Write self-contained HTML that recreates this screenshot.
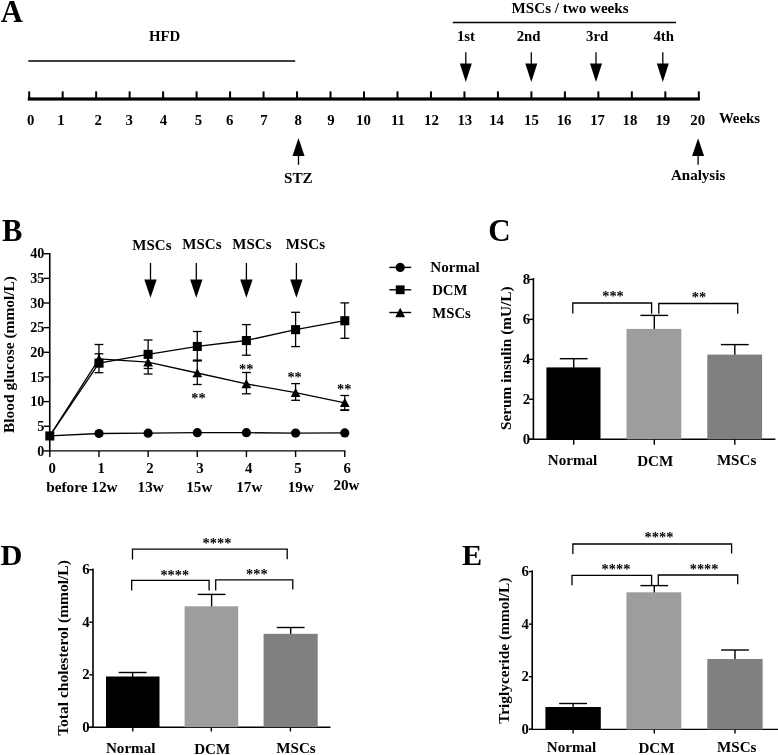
<!DOCTYPE html>
<html><head><meta charset="utf-8"><title>Figure</title>
<style>
html,body{margin:0;padding:0;background:#fff;}
svg{display:block;filter:grayscale(1) blur(0.4px);}
svg text{font-family:"Liberation Serif",serif;font-weight:bold;fill:#000;}
</style></head><body>
<svg width="778" height="755" viewBox="0 0 778 755">
<rect x="0" y="0" width="778" height="755" fill="#fff"/>
<text x="0.8" y="21.5" text-anchor="start" font-size="30.6" >A</text>
<text x="164.5" y="41.3" text-anchor="middle" font-size="14.8" >HFD</text>
<line x1="28.3" y1="61" x2="295.2" y2="61" stroke="#000" stroke-width="1.3" />
<rect x="27.8" y="97.4" width="672.1" height="3.2" fill="#000"/>
<rect x="28.20" y="91.4" width="2" height="7" fill="#000"/>
<rect x="61.68" y="91.4" width="2" height="7" fill="#000"/>
<rect x="95.16" y="91.4" width="2" height="7" fill="#000"/>
<rect x="128.64" y="91.4" width="2" height="7" fill="#000"/>
<rect x="162.12" y="91.4" width="2" height="7" fill="#000"/>
<rect x="195.60" y="91.4" width="2" height="7" fill="#000"/>
<rect x="229.08" y="91.4" width="2" height="7" fill="#000"/>
<rect x="262.56" y="91.4" width="2" height="7" fill="#000"/>
<rect x="296.04" y="91.4" width="2" height="7" fill="#000"/>
<rect x="329.52" y="91.4" width="2" height="7" fill="#000"/>
<rect x="363.00" y="91.4" width="2" height="7" fill="#000"/>
<rect x="396.48" y="91.4" width="2" height="7" fill="#000"/>
<rect x="429.96" y="91.4" width="2" height="7" fill="#000"/>
<rect x="463.44" y="91.4" width="2" height="7" fill="#000"/>
<rect x="496.92" y="91.4" width="2" height="7" fill="#000"/>
<rect x="530.40" y="91.4" width="2" height="7" fill="#000"/>
<rect x="563.88" y="91.4" width="2" height="7" fill="#000"/>
<rect x="597.36" y="91.4" width="2" height="7" fill="#000"/>
<rect x="630.84" y="91.4" width="2" height="7" fill="#000"/>
<rect x="664.32" y="91.4" width="2" height="7" fill="#000"/>
<rect x="697.80" y="91.4" width="2" height="7" fill="#000"/>
<text x="30.6" y="124.5" text-anchor="middle" font-size="14.8" >0</text>
<text x="61" y="124.5" text-anchor="middle" font-size="14.8" >1</text>
<text x="98.3" y="124.5" text-anchor="middle" font-size="14.8" >2</text>
<text x="129.3" y="124.5" text-anchor="middle" font-size="14.8" >3</text>
<text x="163.4" y="124.5" text-anchor="middle" font-size="14.8" >4</text>
<text x="198.5" y="124.5" text-anchor="middle" font-size="14.8" >5</text>
<text x="229.7" y="124.5" text-anchor="middle" font-size="14.8" >6</text>
<text x="263.9" y="124.5" text-anchor="middle" font-size="14.8" >7</text>
<text x="298.1" y="124.5" text-anchor="middle" font-size="14.8" >8</text>
<text x="330.9" y="124.5" text-anchor="middle" font-size="14.8" >9</text>
<text x="363.5" y="124.5" text-anchor="middle" font-size="14.8" >10</text>
<text x="398" y="124.5" text-anchor="middle" font-size="14.8" >11</text>
<text x="431.4" y="124.5" text-anchor="middle" font-size="14.8" >12</text>
<text x="464.8" y="124.5" text-anchor="middle" font-size="14.8" >13</text>
<text x="496.6" y="124.5" text-anchor="middle" font-size="14.8" >14</text>
<text x="531.5" y="124.5" text-anchor="middle" font-size="14.8" >15</text>
<text x="564.1" y="124.5" text-anchor="middle" font-size="14.8" >16</text>
<text x="597.6" y="124.5" text-anchor="middle" font-size="14.8" >17</text>
<text x="629.9" y="124.5" text-anchor="middle" font-size="14.8" >18</text>
<text x="662.8" y="124.5" text-anchor="middle" font-size="14.8" >19</text>
<text x="697.7" y="124.5" text-anchor="middle" font-size="14.8" >20</text>
<text x="718.9" y="123.2" text-anchor="start" font-size="14.8" >Weeks</text>
<line x1="298.5" y1="154.9" x2="298.5" y2="164.8" stroke="#000" stroke-width="1.3" />
<polygon points="292.5,155.9 304.5,155.9 298.5,138.10000000000002" fill="#000"/>
<text x="298.4" y="183.3" text-anchor="middle" font-size="15.15" >STZ</text>
<line x1="698.1" y1="155" x2="698.1" y2="164.8" stroke="#000" stroke-width="1.3" />
<polygon points="692.1,156 704.1,156 698.1,138.20000000000002" fill="#000"/>
<text x="698.1" y="179.7" text-anchor="middle" font-size="15.05" >Analysis</text>
<text x="570.1" y="13.3" text-anchor="middle" font-size="15.1" >MSCs / two weeks</text>
<line x1="452.8" y1="22.5" x2="676" y2="22.5" stroke="#000" stroke-width="1.3" />
<text x="466" y="41" text-anchor="middle" font-size="14.8" >1st</text>
<text x="528.6" y="41" text-anchor="middle" font-size="14.8" >2nd</text>
<text x="597.2" y="41" text-anchor="middle" font-size="14.8" >3rd</text>
<text x="663.7" y="41" text-anchor="middle" font-size="14.8" >4th</text>
<line x1="465.8" y1="52.2" x2="465.8" y2="64.6" stroke="#000" stroke-width="1.3" />
<polygon points="459.8,63.6 471.8,63.6 465.8,82.0" fill="#000"/>
<line x1="531.3" y1="52.2" x2="531.3" y2="64.6" stroke="#000" stroke-width="1.3" />
<polygon points="525.3,63.6 537.3,63.6 531.3,82.0" fill="#000"/>
<line x1="596" y1="52.2" x2="596" y2="64.6" stroke="#000" stroke-width="1.3" />
<polygon points="590.0,63.6 602.0,63.6 596,82.0" fill="#000"/>
<line x1="662.8" y1="52.2" x2="662.8" y2="64.6" stroke="#000" stroke-width="1.3" />
<polygon points="656.8,63.6 668.8,63.6 662.8,82.0" fill="#000"/>
<text x="1.9" y="240.6" text-anchor="start" font-size="30.6" >B</text>
<line x1="49.75" y1="253.0" x2="49.75" y2="451.5" stroke="#000" stroke-width="1.6" />
<line x1="49" y1="450.9" x2="345.5" y2="450.9" stroke="#000" stroke-width="1.4" />
<line x1="43.7" y1="450.9" x2="49.6" y2="450.9" stroke="#000" stroke-width="1.4" />
<text x="44.4" y="455.59999999999997" text-anchor="end" font-size="14.2" >0</text>
<line x1="43.7" y1="426.25" x2="49.6" y2="426.25" stroke="#000" stroke-width="1.4" />
<text x="44.4" y="430.95" text-anchor="end" font-size="14.2" >5</text>
<line x1="43.7" y1="401.59999999999997" x2="49.6" y2="401.59999999999997" stroke="#000" stroke-width="1.4" />
<text x="44.4" y="406.29999999999995" text-anchor="end" font-size="14.2" >10</text>
<line x1="43.7" y1="376.95" x2="49.6" y2="376.95" stroke="#000" stroke-width="1.4" />
<text x="44.4" y="381.65" text-anchor="end" font-size="14.2" >15</text>
<line x1="43.7" y1="352.29999999999995" x2="49.6" y2="352.29999999999995" stroke="#000" stroke-width="1.4" />
<text x="44.4" y="356.99999999999994" text-anchor="end" font-size="14.2" >20</text>
<line x1="43.7" y1="327.65" x2="49.6" y2="327.65" stroke="#000" stroke-width="1.4" />
<text x="44.4" y="332.34999999999997" text-anchor="end" font-size="14.2" >25</text>
<line x1="43.7" y1="303.0" x2="49.6" y2="303.0" stroke="#000" stroke-width="1.4" />
<text x="44.4" y="307.7" text-anchor="end" font-size="14.2" >30</text>
<line x1="43.7" y1="278.35" x2="49.6" y2="278.35" stroke="#000" stroke-width="1.4" />
<text x="44.4" y="283.05" text-anchor="end" font-size="14.2" >35</text>
<line x1="43.7" y1="253.7" x2="49.6" y2="253.7" stroke="#000" stroke-width="1.4" />
<text x="44.4" y="258.4" text-anchor="end" font-size="14.2" >40</text>
<line x1="49.8" y1="450.9" x2="49.8" y2="457" stroke="#000" stroke-width="1.4" />
<line x1="98.96" y1="450.9" x2="98.96" y2="457" stroke="#000" stroke-width="1.4" />
<line x1="148.12" y1="450.9" x2="148.12" y2="457" stroke="#000" stroke-width="1.4" />
<line x1="197.27999999999997" y1="450.9" x2="197.27999999999997" y2="457" stroke="#000" stroke-width="1.4" />
<line x1="246.44" y1="450.9" x2="246.44" y2="457" stroke="#000" stroke-width="1.4" />
<line x1="295.59999999999997" y1="450.9" x2="295.59999999999997" y2="457" stroke="#000" stroke-width="1.4" />
<line x1="344.76" y1="450.9" x2="344.76" y2="457" stroke="#000" stroke-width="1.4" />
<text x="52.3" y="473.3" text-anchor="middle" font-size="14.8" >0</text>
<text x="101.3" y="473.3" text-anchor="middle" font-size="14.8" >1</text>
<text x="149.9" y="473.3" text-anchor="middle" font-size="14.8" >2</text>
<text x="199.9" y="473.3" text-anchor="middle" font-size="14.8" >3</text>
<text x="248.6" y="473.3" text-anchor="middle" font-size="14.8" >4</text>
<text x="297.9" y="473.3" text-anchor="middle" font-size="14.8" >5</text>
<text x="347.1" y="473.3" text-anchor="middle" font-size="14.8" >6</text>
<text x="81.9" y="491.6" text-anchor="middle" font-size="15.3" >before 12w</text>
<text x="150.6" y="491.6" text-anchor="middle" font-size="15.1" >13w</text>
<text x="199.3" y="491.6" text-anchor="middle" font-size="15.1" >15w</text>
<text x="249.3" y="491.6" text-anchor="middle" font-size="15.1" >17w</text>
<text x="300.8" y="491.6" text-anchor="middle" font-size="15.1" >19w</text>
<text x="346.5" y="490.2" text-anchor="middle" font-size="15.1" >20w</text>
<text transform="translate(13.8,354.5) rotate(-90)" text-anchor="middle" font-size="15.45">Blood glucose (mmol/L)</text>
<text x="151.9" y="250.0" text-anchor="middle" font-size="15" >MSCs</text>
<text x="201.9" y="249.3" text-anchor="middle" font-size="15" >MSCs</text>
<text x="251.9" y="249.0" text-anchor="middle" font-size="15" >MSCs</text>
<text x="305.4" y="249.3" text-anchor="middle" font-size="15" >MSCs</text>
<line x1="150.5" y1="263" x2="150.5" y2="280.4" stroke="#000" stroke-width="1.3" />
<polygon points="144.3,279.4 156.7,279.4 150.5,297.8" fill="#000"/>
<line x1="196.3" y1="263" x2="196.3" y2="280.4" stroke="#000" stroke-width="1.3" />
<polygon points="190.10000000000002,279.4 202.5,279.4 196.3,297.8" fill="#000"/>
<line x1="246.4" y1="263" x2="246.4" y2="280.4" stroke="#000" stroke-width="1.3" />
<polygon points="240.20000000000002,279.4 252.6,279.4 246.4,297.8" fill="#000"/>
<line x1="296.4" y1="263" x2="296.4" y2="280.4" stroke="#000" stroke-width="1.3" />
<polygon points="290.2,279.4 302.59999999999997,279.4 296.4,297.8" fill="#000"/>
<line x1="98.96" y1="353.8" x2="98.96" y2="372.7" stroke="#000" stroke-width="1.3" />
<line x1="94.55999999999999" y1="353.8" x2="103.36" y2="353.8" stroke="#000" stroke-width="1.3" />
<line x1="94.55999999999999" y1="372.7" x2="103.36" y2="372.7" stroke="#000" stroke-width="1.3" />
<line x1="148.12" y1="340.0" x2="148.12" y2="368.5" stroke="#000" stroke-width="1.3" />
<line x1="143.72" y1="340.0" x2="152.52" y2="340.0" stroke="#000" stroke-width="1.3" />
<line x1="143.72" y1="368.5" x2="152.52" y2="368.5" stroke="#000" stroke-width="1.3" />
<line x1="197.27999999999997" y1="331.5" x2="197.27999999999997" y2="360.4" stroke="#000" stroke-width="1.3" />
<line x1="192.87999999999997" y1="331.5" x2="201.67999999999998" y2="331.5" stroke="#000" stroke-width="1.3" />
<line x1="192.87999999999997" y1="360.4" x2="201.67999999999998" y2="360.4" stroke="#000" stroke-width="1.3" />
<line x1="246.44" y1="324.6" x2="246.44" y2="355.2" stroke="#000" stroke-width="1.3" />
<line x1="242.04" y1="324.6" x2="250.84" y2="324.6" stroke="#000" stroke-width="1.3" />
<line x1="242.04" y1="355.2" x2="250.84" y2="355.2" stroke="#000" stroke-width="1.3" />
<line x1="295.59999999999997" y1="312.3" x2="295.59999999999997" y2="346.6" stroke="#000" stroke-width="1.3" />
<line x1="291.2" y1="312.3" x2="299.99999999999994" y2="312.3" stroke="#000" stroke-width="1.3" />
<line x1="291.2" y1="346.6" x2="299.99999999999994" y2="346.6" stroke="#000" stroke-width="1.3" />
<line x1="344.76" y1="302.9" x2="344.76" y2="338.3" stroke="#000" stroke-width="1.3" />
<line x1="340.36" y1="302.9" x2="349.15999999999997" y2="302.9" stroke="#000" stroke-width="1.3" />
<line x1="340.36" y1="338.3" x2="349.15999999999997" y2="338.3" stroke="#000" stroke-width="1.3" />
<line x1="98.96" y1="344.5" x2="98.96" y2="366" stroke="#000" stroke-width="1.3" />
<line x1="94.55999999999999" y1="344.5" x2="103.36" y2="344.5" stroke="#000" stroke-width="1.3" />
<line x1="94.55999999999999" y1="366" x2="103.36" y2="366" stroke="#000" stroke-width="1.3" />
<line x1="148.12" y1="353" x2="148.12" y2="374.0" stroke="#000" stroke-width="1.3" />
<line x1="143.72" y1="353" x2="152.52" y2="353" stroke="#000" stroke-width="1.3" />
<line x1="143.72" y1="374.0" x2="152.52" y2="374.0" stroke="#000" stroke-width="1.3" />
<line x1="197.27999999999997" y1="360.4" x2="197.27999999999997" y2="384.5" stroke="#000" stroke-width="1.3" />
<line x1="192.87999999999997" y1="360.4" x2="201.67999999999998" y2="360.4" stroke="#000" stroke-width="1.3" />
<line x1="192.87999999999997" y1="384.5" x2="201.67999999999998" y2="384.5" stroke="#000" stroke-width="1.3" />
<line x1="246.44" y1="372.5" x2="246.44" y2="393.8" stroke="#000" stroke-width="1.3" />
<line x1="242.04" y1="372.5" x2="250.84" y2="372.5" stroke="#000" stroke-width="1.3" />
<line x1="242.04" y1="393.8" x2="250.84" y2="393.8" stroke="#000" stroke-width="1.3" />
<line x1="295.59999999999997" y1="383.6" x2="295.59999999999997" y2="400.3" stroke="#000" stroke-width="1.3" />
<line x1="291.2" y1="383.6" x2="299.99999999999994" y2="383.6" stroke="#000" stroke-width="1.3" />
<line x1="291.2" y1="400.3" x2="299.99999999999994" y2="400.3" stroke="#000" stroke-width="1.3" />
<line x1="344.76" y1="395.5" x2="344.76" y2="410.4" stroke="#000" stroke-width="1.3" />
<line x1="340.36" y1="395.5" x2="349.15999999999997" y2="395.5" stroke="#000" stroke-width="1.3" />
<line x1="340.36" y1="410.4" x2="349.15999999999997" y2="410.4" stroke="#000" stroke-width="1.3" />
<line x1="340.36" y1="410.0" x2="349.15999999999997" y2="410.0" stroke="#000" stroke-width="1.6" />
<line x1="192.87999999999997" y1="360.7" x2="201.67999999999998" y2="360.7" stroke="#000" stroke-width="1.8" />
<polyline points="49.8,435.9 99.0,433.5 148.1,433.2 197.3,432.7 246.4,432.7 295.6,433.1 344.8,432.9" fill="none" stroke="#000" stroke-width="1.3"/>
<polyline points="49.8,435.9 99.0,363.1 148.1,354.3 197.3,346.4 246.4,340.5 295.6,329.6 344.8,320.7" fill="none" stroke="#000" stroke-width="1.3"/>
<polyline points="49.8,435.9 99.0,358.9 148.1,362.2 197.3,373.0 246.4,383.9 295.6,392.7 344.8,402.8" fill="none" stroke="#000" stroke-width="1.3"/>
<circle cx="99.0" cy="433.5" r="4.6" fill="#000"/>
<circle cx="148.1" cy="433.2" r="4.6" fill="#000"/>
<circle cx="197.3" cy="432.7" r="4.6" fill="#000"/>
<circle cx="246.4" cy="432.7" r="4.6" fill="#000"/>
<circle cx="295.6" cy="433.1" r="4.6" fill="#000"/>
<circle cx="344.8" cy="432.9" r="4.6" fill="#000"/>
<polygon points="94.1,363.2 103.9,363.2 99.0,354.1" fill="#000"/>
<polygon points="143.2,366.5 153.0,366.5 148.1,357.4" fill="#000"/>
<polygon points="192.4,377.3 202.2,377.3 197.3,368.2" fill="#000"/>
<polygon points="241.5,388.2 251.3,388.2 246.4,379.1" fill="#000"/>
<polygon points="290.7,397.0 300.5,397.0 295.6,387.9" fill="#000"/>
<polygon points="339.9,407.1 349.7,407.1 344.8,398.0" fill="#000"/>
<rect x="45.3" y="431.4" width="9" height="9.1" fill="#000"/>
<rect x="94.5" y="358.6" width="9" height="9.1" fill="#000"/>
<rect x="143.6" y="349.8" width="9" height="9.1" fill="#000"/>
<rect x="192.8" y="341.9" width="9" height="9.1" fill="#000"/>
<rect x="241.9" y="336.0" width="9" height="9.1" fill="#000"/>
<rect x="291.1" y="325.1" width="9" height="9.1" fill="#000"/>
<rect x="340.3" y="316.2" width="9" height="9.1" fill="#000"/>
<text x="198.4" y="403.0" text-anchor="middle" font-size="14.4" font-weight="normal" fill="#505050">**</text>
<text x="246.2" y="374.4" text-anchor="middle" font-size="14.4" font-weight="normal" fill="#505050">**</text>
<text x="294.6" y="381.9" text-anchor="middle" font-size="14.4" font-weight="normal" fill="#505050">**</text>
<text x="344.3" y="393.8" text-anchor="middle" font-size="14.4" font-weight="normal" fill="#505050">**</text>
<line x1="389.3" y1="267.4" x2="411.2" y2="267.4" stroke="#000" stroke-width="1.4" />
<circle cx="400.2" cy="267.4" r="4.6" fill="#000"/>
<line x1="389.3" y1="289.8" x2="411.2" y2="289.8" stroke="#000" stroke-width="1.4" />
<rect x="395.8" y="285.40000000000003" width="8.8" height="8.8" fill="#000"/>
<line x1="389.3" y1="312.5" x2="411.2" y2="312.5" stroke="#000" stroke-width="1.4" />
<polygon points="395.3,317.3 405.09999999999997,317.3 400.2,307.7" fill="#000"/>
<text x="430.3" y="272.4" text-anchor="start" font-size="15.1" >Normal</text>
<text x="432.2" y="295.3" text-anchor="start" font-size="14.8" >DCM</text>
<text x="432.2" y="317.8" text-anchor="start" font-size="14.8" >MSCs</text>
<text x="488.2" y="241.0" text-anchor="start" font-size="31" >C</text>
<line x1="533.4" y1="278.0" x2="533.4" y2="439.3" stroke="#000" stroke-width="1.6" />
<line x1="528.6" y1="439.3" x2="775.4" y2="439.3" stroke="#000" stroke-width="1.4" />
<line x1="528.9" y1="279.4" x2="533.1" y2="279.4" stroke="#000" stroke-width="1.4" />
<text x="530.1" y="283.9" text-anchor="end" font-size="14.8" >8</text>
<line x1="528.9" y1="319.34999999999997" x2="533.1" y2="319.34999999999997" stroke="#000" stroke-width="1.4" />
<text x="530.1" y="323.84999999999997" text-anchor="end" font-size="14.8" >6</text>
<line x1="528.9" y1="359.29999999999995" x2="533.1" y2="359.29999999999995" stroke="#000" stroke-width="1.4" />
<text x="530.1" y="363.79999999999995" text-anchor="end" font-size="14.8" >4</text>
<line x1="528.9" y1="399.25" x2="533.1" y2="399.25" stroke="#000" stroke-width="1.4" />
<text x="530.1" y="403.75" text-anchor="end" font-size="14.8" >2</text>
<line x1="528.9" y1="439.2" x2="533.1" y2="439.2" stroke="#000" stroke-width="1.4" />
<text x="530.1" y="443.7" text-anchor="end" font-size="14.8" >0</text>
<text transform="translate(511.1,358.2) rotate(-90)" text-anchor="middle" font-size="15.3">Serum insulin (mU/L)</text>
<line x1="573.7" y1="358.7" x2="573.7" y2="368.4" stroke="#000" stroke-width="1.4" />
<line x1="559.8000000000001" y1="358.7" x2="587.6" y2="358.7" stroke="#000" stroke-width="1.4" />
<rect x="546.4" y="367.4" width="54.1" height="71.9" fill="#000"/>
<line x1="654.3" y1="315.4" x2="654.3" y2="329.9" stroke="#000" stroke-width="1.4" />
<line x1="640.4" y1="315.4" x2="668.1999999999999" y2="315.4" stroke="#000" stroke-width="1.4" />
<rect x="626.5" y="328.9" width="54.8" height="110.4" fill="#9d9d9d"/>
<line x1="734.8" y1="344.6" x2="734.8" y2="355.6" stroke="#000" stroke-width="1.4" />
<line x1="720.9" y1="344.6" x2="748.6999999999999" y2="344.6" stroke="#000" stroke-width="1.4" />
<rect x="707.3" y="354.6" width="54.8" height="84.7" fill="#808080"/>
<line x1="573.7" y1="439.3" x2="573.7" y2="444.8" stroke="#000" stroke-width="1.4" />
<line x1="654.3" y1="439.3" x2="654.3" y2="444.8" stroke="#000" stroke-width="1.4" />
<line x1="734.8" y1="439.3" x2="734.8" y2="444.8" stroke="#000" stroke-width="1.4" />
<polyline points="572.8,313.5 572.8,303.0 651.6,303.0 651.6,313.8" fill="none" stroke="#000" stroke-width="1.3"/>
<polyline points="658.8,313.8 658.8,303.5 737.7,303.5 737.7,313.8" fill="none" stroke="#000" stroke-width="1.3"/>
<text x="613" y="301.4" text-anchor="middle" font-size="14.4" font-weight="normal" fill="#505050">***</text>
<text x="699" y="302.2" text-anchor="middle" font-size="14.4" font-weight="normal" fill="#505050">**</text>
<text x="572.5" y="465" text-anchor="middle" font-size="15.1" >Normal</text>
<text x="655.2" y="466.3" text-anchor="middle" font-size="15.1" >DCM</text>
<text x="736.6" y="465" text-anchor="middle" font-size="15.1" >MSCs</text>
<text x="0.6" y="565.3" text-anchor="start" font-size="30.3" >D</text>
<line x1="93.0" y1="568.4" x2="93.0" y2="727.8" stroke="#000" stroke-width="1.6" />
<line x1="89.3" y1="727.2" x2="330.5" y2="727.2" stroke="#000" stroke-width="1.4" />
<line x1="89.3" y1="569.7" x2="92.7" y2="569.7" stroke="#000" stroke-width="1.4" />
<text x="89.6" y="574.2" text-anchor="end" font-size="14.8" >6</text>
<line x1="89.3" y1="622.25" x2="92.7" y2="622.25" stroke="#000" stroke-width="1.4" />
<text x="89.6" y="626.75" text-anchor="end" font-size="14.8" >4</text>
<line x1="89.3" y1="674.8000000000001" x2="92.7" y2="674.8000000000001" stroke="#000" stroke-width="1.4" />
<text x="89.6" y="679.3000000000001" text-anchor="end" font-size="14.8" >2</text>
<line x1="89.3" y1="727.35" x2="92.7" y2="727.35" stroke="#000" stroke-width="1.4" />
<text x="89.6" y="731.85" text-anchor="end" font-size="14.8" >0</text>
<text transform="translate(68.3,648) rotate(-90)" text-anchor="middle" font-size="15.5">Total cholesterol (mmol/L)</text>
<line x1="132.6" y1="672.5" x2="132.6" y2="677.5" stroke="#000" stroke-width="1.4" />
<line x1="118.69999999999999" y1="672.5" x2="146.5" y2="672.5" stroke="#000" stroke-width="1.4" />
<rect x="106" y="676.5" width="53.5" height="50.7" fill="#000"/>
<line x1="211.6" y1="594.4" x2="211.6" y2="607.3" stroke="#000" stroke-width="1.4" />
<line x1="197.7" y1="594.4" x2="225.5" y2="594.4" stroke="#000" stroke-width="1.4" />
<rect x="184.6" y="606.3" width="53.6" height="120.9" fill="#9d9d9d"/>
<line x1="290.7" y1="627.5" x2="290.7" y2="634.8" stroke="#000" stroke-width="1.4" />
<line x1="276.8" y1="627.5" x2="304.59999999999997" y2="627.5" stroke="#000" stroke-width="1.4" />
<rect x="263.6" y="633.8" width="54.1" height="93.4" fill="#808080"/>
<line x1="132.8" y1="727.2" x2="132.8" y2="731.5" stroke="#000" stroke-width="1.4" />
<line x1="211.3" y1="727.2" x2="211.3" y2="731.5" stroke="#000" stroke-width="1.4" />
<line x1="290.4" y1="727.2" x2="290.4" y2="731.5" stroke="#000" stroke-width="1.4" />
<polyline points="132.5,559.5 132.5,549.1 287.2,549.1 287.2,559.3" fill="none" stroke="#000" stroke-width="1.3"/>
<polyline points="131.7,590.4 131.7,580.3 209.1,580.3 209.1,590.4" fill="none" stroke="#000" stroke-width="1.3"/>
<polyline points="215.7,590.4 215.7,579.8 292.8,579.8 292.8,589.6" fill="none" stroke="#000" stroke-width="1.3"/>
<text x="217" y="547.9" text-anchor="middle" font-size="14.4" font-weight="normal" fill="#505050">****</text>
<text x="174.8" y="579.8" text-anchor="middle" font-size="14.4" font-weight="normal" fill="#505050">****</text>
<text x="256.9" y="579.0" text-anchor="middle" font-size="14.4" font-weight="normal" fill="#505050">***</text>
<text x="130.7" y="752.5" text-anchor="middle" font-size="15.1" >Normal</text>
<text x="212.2" y="754" text-anchor="middle" font-size="15.1" >DCM</text>
<text x="296" y="752.5" text-anchor="middle" font-size="15.1" >MSCs</text>
<text x="461.9" y="565.3" text-anchor="start" font-size="30.2" >E</text>
<line x1="532.2" y1="570.3" x2="532.2" y2="730.0" stroke="#000" stroke-width="1.6" />
<line x1="529.3" y1="729.4" x2="778" y2="729.4" stroke="#000" stroke-width="1.4" />
<line x1="528.9" y1="571.6" x2="532.2" y2="571.6" stroke="#000" stroke-width="1.4" />
<text x="528.9" y="576.0" text-anchor="end" font-size="14.8" >6</text>
<line x1="528.9" y1="624.15" x2="532.2" y2="624.15" stroke="#000" stroke-width="1.4" />
<text x="528.9" y="628.55" text-anchor="end" font-size="14.8" >4</text>
<line x1="528.9" y1="676.7" x2="532.2" y2="676.7" stroke="#000" stroke-width="1.4" />
<text x="528.9" y="681.1" text-anchor="end" font-size="14.8" >2</text>
<line x1="528.9" y1="729.25" x2="532.2" y2="729.25" stroke="#000" stroke-width="1.4" />
<text x="528.9" y="733.65" text-anchor="end" font-size="14.8" >0</text>
<text transform="translate(508.9,650.7) rotate(-90)" text-anchor="middle" font-size="15.4">Triglyceride (mmol/L)</text>
<line x1="573.1" y1="703.5" x2="573.1" y2="708" stroke="#000" stroke-width="1.4" />
<line x1="559.2" y1="703.5" x2="587.0" y2="703.5" stroke="#000" stroke-width="1.4" />
<rect x="545.4" y="707" width="55.4" height="22.4" fill="#000"/>
<line x1="654.3" y1="585.6" x2="654.3" y2="593.3" stroke="#000" stroke-width="1.4" />
<line x1="640.4" y1="585.6" x2="668.1999999999999" y2="585.6" stroke="#000" stroke-width="1.4" />
<rect x="626.4" y="592.3" width="54.9" height="137.1" fill="#9d9d9d"/>
<line x1="735" y1="650" x2="735" y2="660" stroke="#000" stroke-width="1.4" />
<line x1="721.1" y1="650" x2="748.9" y2="650" stroke="#000" stroke-width="1.4" />
<rect x="707.3" y="659" width="55.3" height="70.4" fill="#808080"/>
<line x1="573.1" y1="729.4" x2="573.1" y2="733.5" stroke="#000" stroke-width="1.4" />
<line x1="654.3" y1="729.4" x2="654.3" y2="733.5" stroke="#000" stroke-width="1.4" />
<line x1="735" y1="729.4" x2="735" y2="733.5" stroke="#000" stroke-width="1.4" />
<polyline points="572.9,554.0 572.9,544 731.6,544 731.6,553.5" fill="none" stroke="#000" stroke-width="1.3"/>
<polyline points="572.0,585.3 572.0,575.3 651.6,575.3 651.6,585.3" fill="none" stroke="#000" stroke-width="1.3"/>
<polyline points="658.3,585.1 658.3,575 737.7,575 737.7,584.3" fill="none" stroke="#000" stroke-width="1.3"/>
<text x="659" y="542.2" text-anchor="middle" font-size="14.4" font-weight="normal" fill="#505050">****</text>
<text x="616" y="573.6" text-anchor="middle" font-size="14.4" font-weight="normal" fill="#505050">****</text>
<text x="704.1" y="573.6" text-anchor="middle" font-size="14.4" font-weight="normal" fill="#505050">****</text>
<text x="571.5" y="751.5" text-anchor="middle" font-size="15.1" >Normal</text>
<text x="656.5" y="753" text-anchor="middle" font-size="15.1" >DCM</text>
<text x="736.8" y="751.5" text-anchor="middle" font-size="15.1" >MSCs</text>
</svg>
</body></html>
